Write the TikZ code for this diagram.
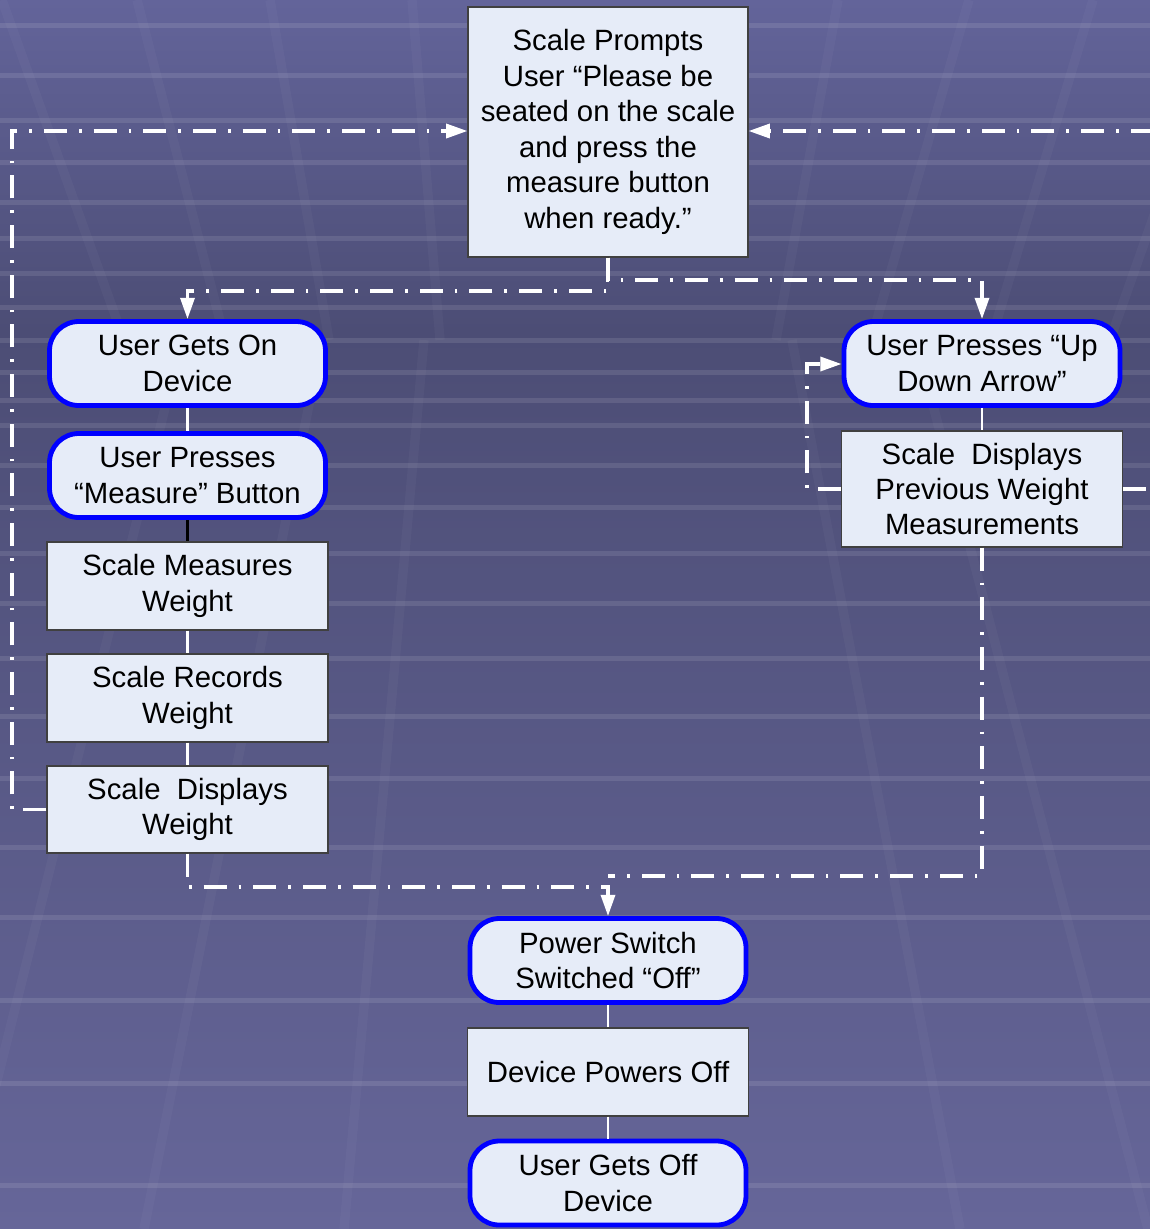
\documentclass[tikz,border=0pt]{standalone}
\usepackage{fontspec}
\setmainfont{Liberation Sans}
\usetikzlibrary{arrows.meta}

\definecolor{bgtop}{HTML}{63649A}
\definecolor{bgmid}{HTML}{4C4D75}
\definecolor{bgbot}{HTML}{666699}
\definecolor{boxfill}{HTML}{E6ECF8}
\definecolor{termblue}{HTML}{0000FF}

\begin{document}
\begin{tikzpicture}[x=0.75pt,y=-0.75pt,
  every node/.style={font=\fontsize{22}{26.6}\selectfont, align=center, fill=boxfill, inner sep=0pt},
  stepbox/.style={draw=black!75, line width=0.8pt, minimum width=210.75pt, minimum height=66pt},
  termbox/.style={draw=termblue, line width=3.6pt, rounded corners=22pt, minimum width=207pt, minimum height=63pt},
  link/.style={draw=white, line width=2pt},
  flow/.style={draw=white, line width=2.6pt, dash pattern=on 17.25pt off 9pt on 2pt off 9pt,
    -{Triangle[length=16pt,width=10.5pt,fill=white]}},
  stripe/.style={white, opacity=0.1, line width=3.75pt},
  ray/.style={white, opacity=0.03, line width=7pt}]

\useasboundingbox (0,0) rectangle (1150,1229);
\clip (0,0) rectangle (1150,1229);

% background
\shade[top color=bgtop, bottom color=bgmid] (0,0) rectangle (1150,331);
\shade[top color=bgmid, bottom color=bgbot] (0,330) rectangle (1150,1229);
\foreach \h in {25,75,120,162,202,238,273,307,340,372,400,425,465,507,553,603,658,716,778,847,917,1000,1083,1185} {
	\draw[stripe] (0,\h) -- (1150,\h);
}
\foreach \a/\b in {2/124,137/225,270/329,412/440,838/776,969/871,1093/991,1230/1110} {
	\draw[ray] (\a,0) -- (\b,340);
}
\foreach \a/\b in {182/-40,322/144,424/344,792/960,916/1148} {
	\draw[ray] (\a,340) -- (\b,1229);
}

% boxes
\node[stepbox, minimum width=210pt, minimum height=187.5pt] (prompt) at (608,132)
	{Scale Prompts\\User “Please be\\seated on the scale\\and press the\\measure button\\when ready.”};
\node[termbox] (getson) at (187.5,363.5) {User Gets On\\Device};
\node[termbox] (presses) at (187.5,475.5) {User Presses\\“Measure” Button};
\node[stepbox] (measures) at (187.5,586) {Scale Measures\\Weight};
\node[stepbox] (records) at (187.5,698) {Scale Records\\Weight};
\node[stepbox, minimum height=65.25pt] (displays) at (187.5,809.5) {Scale\ \ Displays\\Weight};
\node[termbox] (updown) at (982,363.5) {User Presses “Up\\Down Arrow”};
\node[stepbox, minimum height=87pt] (prevw) at (982,489) {Scale\ \ Displays\\Previous Weight\\Measurements};
\node[termbox] (switch) at (608,960.5) {Power Switch\\Switched “Off”};
\node[stepbox] (devoff) at (608,1072) {Device Powers Off};
\node[termbox] (getsoff) at (608,1183) {User Gets Off\\Device};

% joints
\coordinate (jtl) at (608,291);
\coordinate (jtr) at (608,280);
\coordinate (lcorner) at (12,131);
\coordinate (rcorner) at (1158,131);
\coordinate (ucorner) at (807,364);
\coordinate (jbot) at (608,887);
\coordinate (jmid) at (608,876);

% solid links
\draw[link] (getson) -- (presses);
\draw[link, draw=black] (presses) -- (measures);
\draw[link] (measures) -- (records);
\draw[link] (records) -- (displays);
\draw[link] (updown) -- (prevw);
\draw[link] (switch) -- (devoff);
\draw[link] (devoff) -- (getsoff);

% dash-dot flows
\draw[flow] (prompt.south) -- (jtl) -| (getson.north);
\draw[flow] (prompt.south) -- (jtr) -| (updown.north);
\draw[flow] (displays.west) -| (lcorner) -- (prompt.west |- lcorner);
\draw[flow] (prevw.east) -| (rcorner) -- (prompt.east |- rcorner);
\draw[flow] (prevw.west) -| (ucorner) -- (updown.west |- ucorner);
\draw[flow] (displays.south) |- (jbot) -- (switch.north);
\draw[flow, -] (prevw.south) |- (jmid);

\end{tikzpicture}
\end{document}
